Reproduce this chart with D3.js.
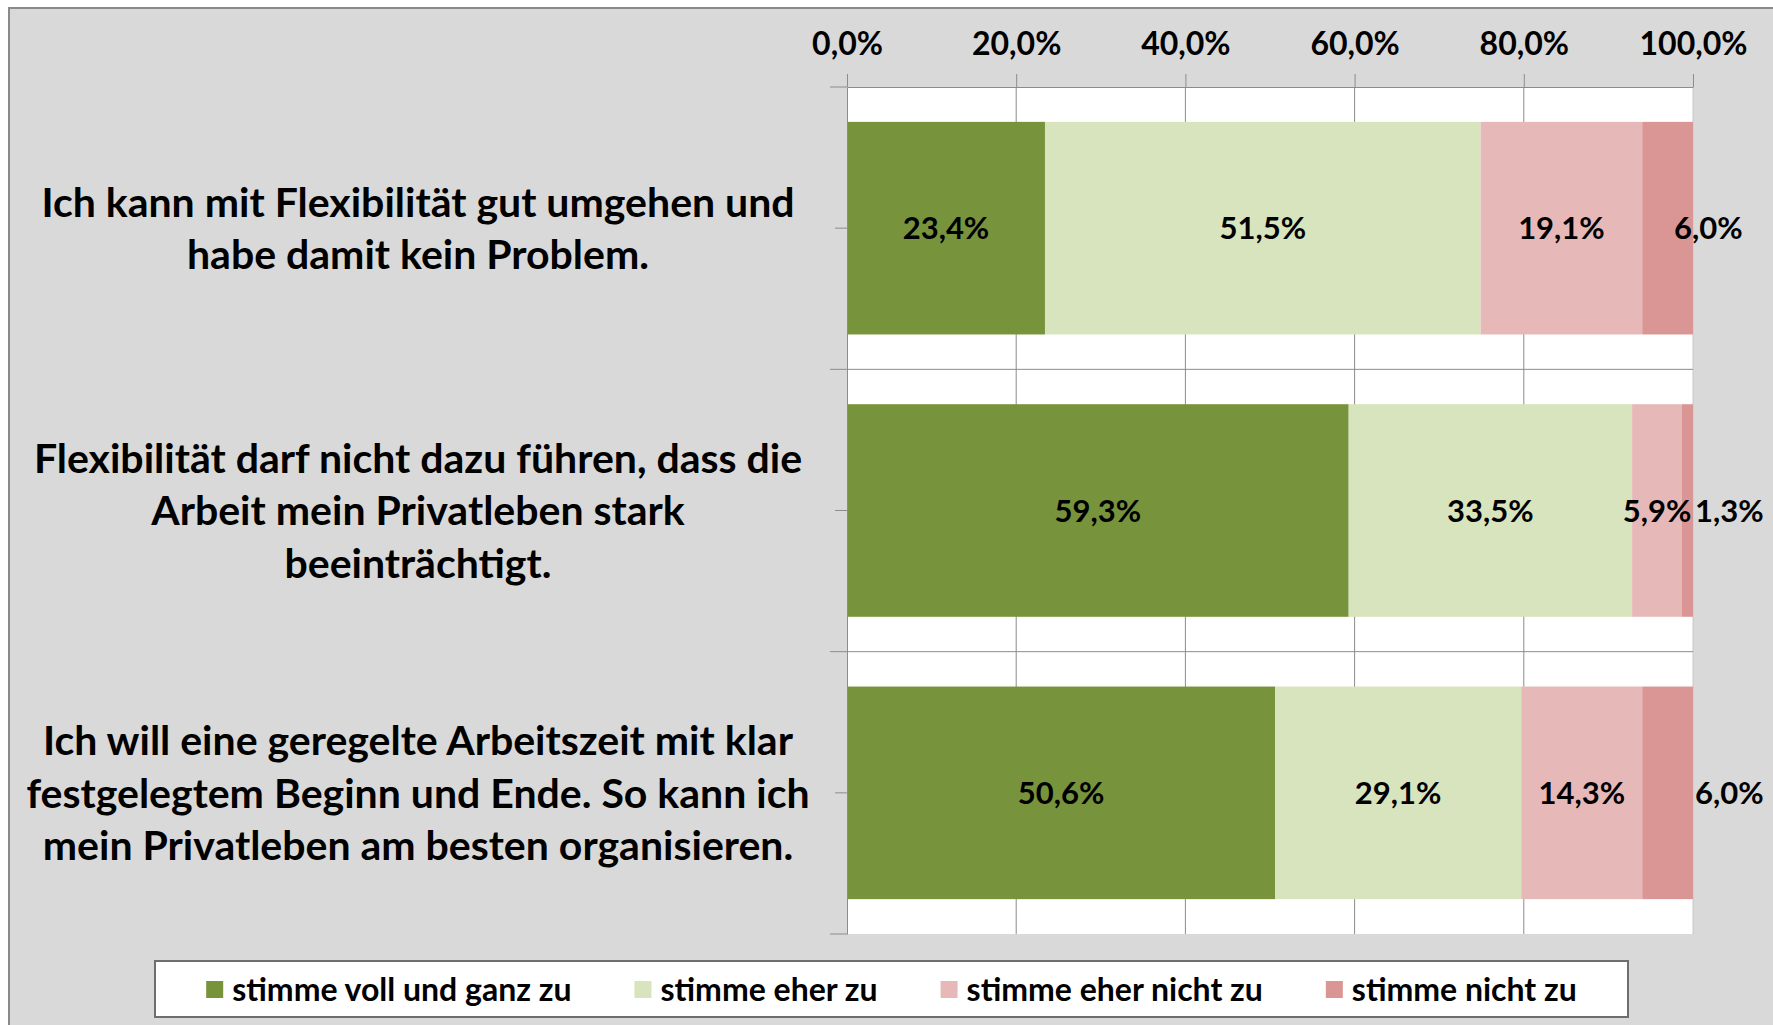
<!DOCTYPE html>
<html>
<head>
<meta charset="utf-8">
<script src="https://cdn.jsdelivr.net/npm/d3@7"></script>
<style>
  body { margin: 0; background: #fff; }
  svg { display: block; }
  text { font-family: Lato, "Open Sans", sans-serif; font-weight: 700; fill: #000; }
</style>
</head>
<body>
<svg id="chart" width="1773" height="1025"></svg>
<script>
// category labels, already wrapped the way the original shows them
var categoryLines = [
  ["Ich kann mit Flexibilität gut umgehen und", "habe damit kein Problem."],
  ["Flexibilität darf nicht dazu führen, dass die", "Arbeit mein Privatleben stark", "beeinträchtigt."],
  ["Ich will eine geregelte Arbeitszeit mit klar", "festgelegtem Beginn und Ende. So kann ich", "mein Privatleben am besten organisieren."]
];
var seriesNames = ["stimme voll und ganz zu", "stimme eher zu", "stimme eher nicht zu", "stimme nicht zu"];
var vollUndGanz = [23.4, 59.3, 50.6];
var eherZu = [51.5, 33.5, 29.1];
var eherNichtZu = [19.1, 5.9, 14.3];
var nichtZu = [6.0, 1.3, 6.0];
var xTicks = [0, 20, 40, 60, 80, 100];

var colors = ["#77933c", "#d7e4bd", "#e6b9b8", "#d99694"];

var svg = d3.select('#chart');
var margin = { top: 87, left: 847 };
var width = 846;
var height = 847;

// table for d3.stack
var rows = categoryLines.map(function (c, i) {
  return { idx: i, s0: vollUndGanz[i], s1: eherZu[i], s2: eherNichtZu[i], s3: nichtZu[i] };
});
var stack = d3.stack().keys(['s0', 's1', 's2', 's3']);
var layers = stack(rows);

var xScale = d3.scaleLinear().domain([0, 100]).range([0, width]);
var yScale = d3.scaleBand()
  .domain(d3.range(categoryLines.length))
  .range([0, height])
  .paddingInner(0.247)
  .paddingOuter(0.1235);

var fmt = function (v) { return d3.format('.1f')(v).replace('.', ',') + '%'; };

// chart area background
svg.append('rect')
  .attr('x', 9).attr('y', 8)
  .attr('width', 1800).attr('height', 1100)
  .attr('fill', '#d9d9d9')
  .attr('stroke', '#8a8a8a')
  .attr('stroke-width', 2);

var g = svg.append('g')
  .attr('transform', 'translate(' + margin.left + ',' + margin.top + ')');

// plot area
g.append('rect')
  .attr('width', width).attr('height', height)
  .attr('fill', '#fff');

// vertical gridlines
g.append('g').selectAll('line')
  .data(xTicks.slice(1))
  .enter().append('line')
  .attr('x1', function (d) { return xScale(d); })
  .attr('x2', function (d) { return xScale(d); })
  .attr('y1', 0).attr('y2', height)
  .attr('stroke', function (d) { return d === 100 ? '#c8c8c8' : '#8c8c8c'; })
  .attr('stroke-width', 1);

// category boundaries
var step = yScale.step();
g.append('g').selectAll('line')
  .data(d3.range(1, categoryLines.length))
  .enter().append('line')
  .attr('x1', -17).attr('x2', width)
  .attr('y1', function (d) { return d * step; })
  .attr('y2', function (d) { return d * step; })
  .attr('stroke', '#8c8c8c');

// bars
var layerG = g.append('g').selectAll('g')
  .data(layers)
  .enter().append('g')
  .attr('fill', function (d, i) { return colors[i]; });

layerG.selectAll('rect')
  .data(function (d) { return d; })
  .enter().append('rect')
  .attr('x', function (d) { return xScale(d[0]); })
  .attr('y', function (d) { return yScale(d.data.idx); })
  .attr('width', function (d) { return xScale(d[1]) - xScale(d[0]); })
  .attr('height', yScale.bandwidth());

// data labels; the last series sits at the right end of the bar
var lastShift = [-21, 0, 0];
layers.forEach(function (layer, si) {
  var last = si === layers.length - 1;
  g.append('g').selectAll('text')
    .data(layer)
    .enter().append('text')
    .attr('x', function (d, i) {
      return last ? xScale(d[1]) + 2 + lastShift[i] : (xScale(d[0]) + xScale(d[1])) / 2;
    })
    .attr('y', function (d) { return yScale(d.data.idx) + yScale.bandwidth() / 2; })
    .attr('dy', '0.36em')
    .attr('text-anchor', last ? 'start' : 'middle')
    .style('font-size', '31px')
    .text(function (d) { return fmt(d[1] - d[0]); });
});

// x axis on top
var xAxis = d3.axisTop(xScale)
  .tickValues(xTicks)
  .tickSizeInner(13)
  .tickSizeOuter(0)
  .tickPadding(19)
  .tickFormat(fmt);
var xg = g.append('g').call(xAxis);
xg.select('.domain').attr('stroke', '#8c8c8c');
xg.selectAll('.tick line').attr('stroke', '#8c8c8c');
xg.selectAll('.tick text')
  .style('font-size', '32px')
  .style('font-family', 'Lato, sans-serif')
  .attr('fill', '#000');
g.append('line')
  .attr('x1', -17).attr('x2', 0).attr('y1', 0).attr('y2', 0)
  .attr('stroke', '#8c8c8c');

// y axis (no labels, the wrapped labels are drawn below)
var yAxis = d3.axisLeft(yScale).tickSizeInner(12).tickSizeOuter(0).tickFormat('');
var yg = g.append('g').call(yAxis);
yg.select('.domain').attr('stroke', '#8c8c8c');
yg.selectAll('.tick line').attr('stroke', '#8c8c8c');
g.append('line')
  .attr('x1', -17).attr('x2', 0).attr('y1', height).attr('y2', height)
  .attr('stroke', '#8c8c8c');

// category labels
var lineH = 52.5;
var catG = svg.append('g');
categoryLines.forEach(function (lines, i) {
  var cy = margin.top + yScale(i) + yScale.bandwidth() / 2;
  var t = catG.append('text')
    .attr('text-anchor', 'middle')
    .style('font-size', '41px');
  lines.forEach(function (ln, j) {
    t.append('tspan')
      .attr('x', 418)
      .attr('y', cy + (j - (lines.length - 1) / 2) * lineH)
      .attr('dy', '0.36em')
      .text(ln);
  });
});

// legend
var legend = svg.append('g');
legend.append('rect')
  .attr('x', 155).attr('y', 961)
  .attr('width', 1473).attr('height', 56)
  .attr('fill', '#fff')
  .attr('stroke', '#6e6e6e')
  .attr('stroke-width', 2);

var items = legend.append('g');
var cursor = 0;
seriesNames.forEach(function (name, i) {
  var it = items.append('g').attr('transform', 'translate(' + cursor + ',0)');
  it.append('rect')
    .attr('x', 0).attr('y', 981)
    .attr('width', 17).attr('height', 17)
    .attr('fill', colors[i]);
  var tx = it.append('text')
    .attr('x', 26).attr('y', 989)
    .attr('dy', '0.36em')
    .style('font-size', '32px')
    .text(name);
  cursor += 26 + tx.node().getComputedTextLength() + 63;
});
var legendW = cursor - 63;
items.attr('transform', 'translate(' + (155 + 1473 / 2 - legendW / 2) + ',0)');
</script>
</body>
</html>
